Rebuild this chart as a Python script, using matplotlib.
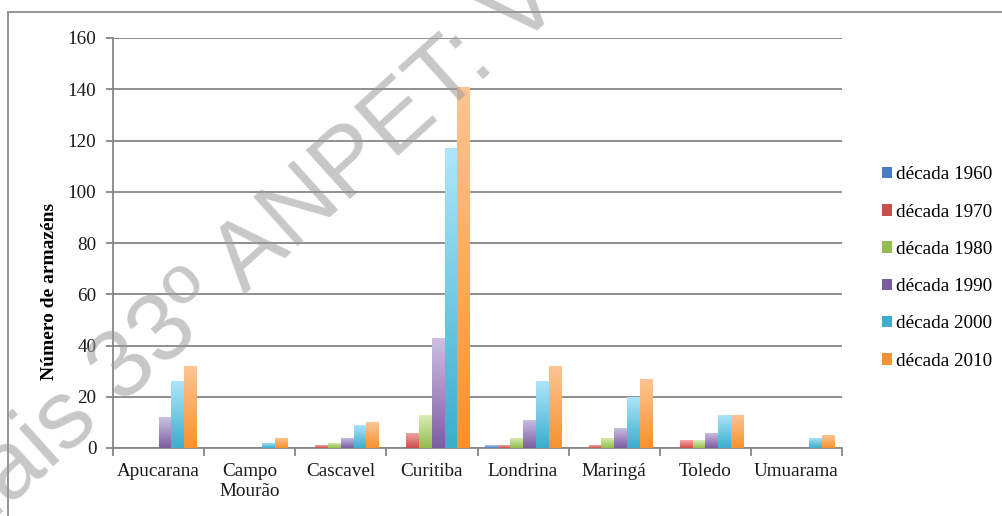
import numpy as np
import matplotlib
matplotlib.use('Agg')
import matplotlib.pyplot as plt
from matplotlib.colors import LinearSegmentedColormap
from matplotlib.patches import Rectangle

# cidades e número de armazéns por década
cidades = ['Apucarana', 'Campo\nMourão', 'Cascavel', 'Curitiba', 'Londrina', 'Maringá', 'Toledo', 'Umuarama']
decadas = ['década 1960', 'década 1970', 'década 1980', 'década 1990', 'década 2000', 'década 2010']
d1960 = [0, 0, 0, 0, 1, 0, 0, 0]
d1970 = [0, 0, 1, 6, 1, 1, 3, 0]
d1980 = [0, 0, 2, 13, 4, 4, 3, 0]
d1990 = [12, 0, 4, 43, 11, 8, 6, 0]
d2000 = [26, 2, 9, 117, 26, 20, 13, 4]
d2010 = [32, 4, 10, 141, 32, 27, 13, 5]
series = [d1960, d1970, d1980, d1990, d2000, d2010]

# cor clara (topo) e cor forte (base) de cada série
cores = [('#b3c8ea', '#4a7cc3'),
         ('#f3a9a6', '#cc4f4b'),
         ('#dcefb9', '#93bd4f'),
         ('#cdc0e3', '#7b5ea2'),
         ('#aee6fa', '#3aaecd'),
         ('#fdc594', '#f7922f')]

plt.rcParams['font.family'] = ['Liberation Serif', 'DejaVu Serif']
W, H = 1002, 516
fig = plt.figure(figsize=(W / 100, H / 100), dpi=100)
ax = fig.add_axes([113 / W, 68 / H, (842 - 113) / W, (448 - 38) / H])

x = np.arange(len(cidades))
largura = 0.14
inicio = -0.5 + 0.08 + largura / 2

grad = np.linspace(0, 1, 128).reshape(-1, 1)
for i, (vals, nome, (claro, forte)) in enumerate(zip(series, decadas, cores)):
    cmap = LinearSegmentedColormap.from_list(nome, [forte, claro])
    barras = ax.bar(x + inicio + i * largura, vals, largura, color=claro, label=nome, zorder=3)
    for b in barras:
        h = b.get_height()
        if h <= 0:
            continue
        b.set_facecolor('none')
        b.set_edgecolor('none')
        im = ax.imshow(grad, extent=[b.get_x(), b.get_x() + b.get_width(), 0, h],
                       cmap=cmap, aspect='auto', origin='lower', zorder=3)
        im.set_clip_path(b)

ax.set_xlim(-0.5, len(cidades) - 0.5)
ax.set_ylim(0, 160)
ax.set_yticks(np.arange(0, 161, 20))
ax.grid(axis='y', color='#878787', linewidth=1.3, zorder=0)
ax.set_axisbelow(True)

ax.set_xticks(x)
ax.set_xticklabels(cidades, fontsize=13.8, color='#1a1a1a')
ax.set_xticks(np.arange(-0.5, len(cidades)), minor=True)
ax.tick_params(axis='x', which='major', length=0, pad=11)
ax.tick_params(axis='x', which='minor', length=6, width=1.3, color='#878787', direction='out')
ax.tick_params(axis='y', length=5, width=1.3, color='#878787', labelsize=13.8,
               labelcolor='#1a1a1a', pad=7)

for lado in ['top', 'right']:
    ax.spines[lado].set_visible(False)
for lado in ['left', 'bottom']:
    ax.spines[lado].set_color('#878787')
    ax.spines[lado].set_linewidth(1.3)

fig.text(50 / W, 1 - 291 / H, 'Número de armazéns', rotation=90, fontsize=14,
         fontweight='bold', ha='center', va='center')

# legenda com quadradinhos em degradê
leg = fig.legend(loc='center left', bbox_to_anchor=(874 / W, 1 - 268 / H), frameon=False,
                 fontsize=13.8, handlelength=0.55, handleheight=0.55, handletextpad=0.2,
                 labelspacing=1.06, borderaxespad=0)
for patch, (claro, forte) in zip(leg.get_patches(), cores):
    patch.set_facecolor(forte)

# moldura do gráfico
fig.patches.append(Rectangle((8 / W, -0.1), 1.2, 1 - 12 / H + 0.1, transform=fig.transFigure,
                             fill=False, edgecolor='#8c8c8c', linewidth=1.3))

# marca d'água
fig.text(-80 / W, -70 / H, 'Anais 33º ANPET: V', fontsize=70, family='Liberation Sans',
         color='#9a9a9a', alpha=0.55, rotation=42, rotation_mode='anchor',
         ha='left', va='baseline', zorder=10)

fig.savefig('out.png', dpi=100)
